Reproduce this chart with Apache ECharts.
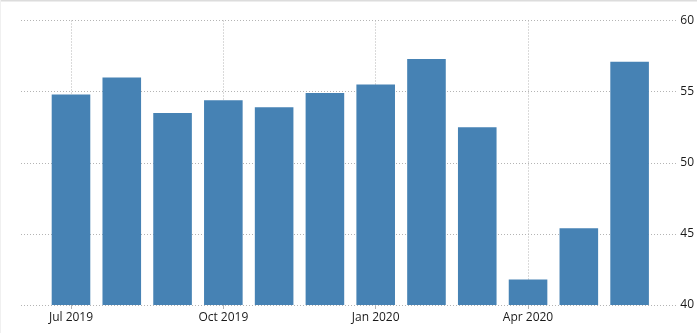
<!DOCTYPE html>
<html>
<head>
<meta charset="utf-8">
<script src="https://cdn.jsdelivr.net/npm/echarts@6/dist/echarts.min.js"></script>
<style>
html,body{margin:0;padding:0;background:#fff;}
#chart{width:697px;height:333px;}
</style>
</head>
<body>
<div id="chart"></div>
<script>
const categories = ["Jul 2019","Aug 2019","Sep 2019","Oct 2019","Nov 2019","Dec 2019","Jan 2020","Feb 2020","Mar 2020","Apr 2020","May 2020","Jun 2020"];
const values = [54.8, 56.0, 53.5, 54.4, 53.9, 54.9, 55.5, 57.3, 52.5, 41.8, 45.4, 57.1];
const yTicks = [40, 45, 50, 55, 60];

const chart = echarts.init(document.getElementById('chart'), null, {renderer: 'canvas'});
const font = "'Open Sans', sans-serif";
const gridStyle = {type: [1, 2], color: '#b4b4b4', width: 1};

chart.setOption({
  animation: false,
  backgroundColor: '#fff',
  graphic: [
    {type: 'line', shape: {x1: 0, y1: 0.5, x2: 697, y2: 0.5}, style: {stroke: '#dcdcdc', lineWidth: 2}},
    {type: 'line', shape: {x1: 0.5, y1: 0, x2: 0.5, y2: 333}, style: {stroke: '#f0f0f0', lineWidth: 1}}
  ],
  grid: [
    {left: 21, right: 20, top: 20.5, bottom: 28},
    {left: 45.6, right: 42, top: 20.5, bottom: 28},
    {left: 71, right: 67.4, top: 20.5, bottom: 28}
  ],
  xAxis: [
    {type: 'value', gridIndex: 0, show: false, min: 0, max: 1},
    {type: 'category', gridIndex: 1, data: categories, show: false},
    {
      type: 'category', gridIndex: 2, data: categories, boundaryGap: false,
      axisLine: {show: false},
      axisTick: {show: true, interval: 2, length: 4, lineStyle: {color: '#b4b4b4'}},
      axisLabel: {interval: 2, color: '#1a1a1a', fontFamily: font, fontSize: 12, margin: 7},
      splitLine: {show: true, interval: 2, lineStyle: gridStyle}
    }
  ],
  yAxis: [
    {
      type: 'value', gridIndex: 0, position: 'right',
      min: yTicks[0], max: yTicks[yTicks.length - 1], interval: 5,
      axisLine: {show: false}, axisTick: {show: false},
      axisLabel: {color: '#1a1a1a', fontFamily: font, fontSize: 12, margin: 4},
      splitLine: {show: true, lineStyle: gridStyle}
    },
    {
      type: 'value', gridIndex: 1, min: yTicks[0], max: yTicks[yTicks.length - 1], interval: 5,
      show: false, splitLine: {show: false}
    },
    {
      type: 'value', gridIndex: 2, min: yTicks[0], max: yTicks[yTicks.length - 1], interval: 5,
      show: false, splitLine: {show: false}
    }
  ],
  series: [{
    type: 'bar', xAxisIndex: 1, yAxisIndex: 1,
    data: values,
    barWidth: '76%',
    itemStyle: {color: '#4682b4'}
  }]
});
</script>
</body>
</html>
